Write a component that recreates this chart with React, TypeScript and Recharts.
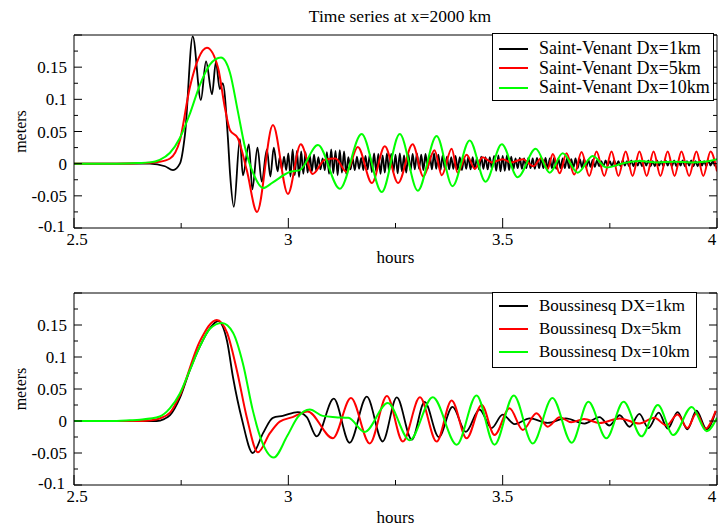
import { LineChart, Line, XAxis, YAxis, Legend } from 'recharts';

const FONT = '"Liberation Serif", "Times New Roman", serif';

// axis ticks (minor + major), labels only on the majors
const xTicks = [2.5, 2.75, 3, 3.25, 3.5, 3.75, 4];
const yTicks = [-0.1, -0.075, -0.05, -0.025, 0, 0.025, 0.05, 0.075, 0.1, 0.125, 0.15, 0.175, 0.2];
const yLabelled = [-0.1, -0.05, 0, 0.05, 0.1, 0.15];

const svNames = ['Saint-Venant Dx=1km', 'Saint-Venant Dx=5km', 'Saint-Venant Dx=10km'];
const bqNames = ['Boussinesq DX=1km', 'Boussinesq Dx=5km', 'Boussinesq Dx=10km'];
const colors = ['#000000', '#ff0000', '#00ff00'];

// Saint-Venant Dx=1km : main wave, then a high frequency tail sampled every 0.005 h
const sv1Head = [
  [2.5, 0], [2.6, 0], [2.677, 0], [2.712, -0.004], [2.731, -0.01], [2.747, 0.0], [2.759, 0.046],
  [2.777, 0.198], [2.796, 0.099], [2.808, 0.159], [2.822, 0.108], [2.831, 0.158], [2.84, 0.116],
  [2.847, 0.125], [2.859, 0.04], [2.864, -0.015], [2.873, -0.067], [2.887, 0.038], [2.894, -0.018],
  [2.908, 0.03], [2.916, -0.04], [2.928, 0.025], [2.938, -0.028], [2.95, 0.022], [2.958, -0.02],
  [2.966, 0.025],
];
const sv1TailStart = 2.975;
const sv1TailStep = 0.005;
const sv1Tail = [
  -0.012, 0.01, -0.009, 0.011, -0.01,
  0.016, -0.02, 0.022, -0.018, 0.02, -0.021, 0.019, -0.016, 0.018,
  -0.014, 0.013, -0.012, 0.014, -0.011,
  0.01, -0.009, 0.008, -0.01,
  0.018, -0.016, 0.022, -0.015, 0.02, -0.018, 0.021, -0.014, 0.019, -0.016,
  0.01, -0.009, 0.008, -0.01, 0.011, -0.008, 0.009, -0.01, 0.012, -0.009,
  0.014, -0.013, 0.016, -0.012, 0.015, -0.016, 0.013, -0.014, 0.016, -0.012,
  0.015, -0.013, 0.014, -0.015, 0.016, -0.012, 0.013, -0.014, 0.015, -0.011,
  0.015, -0.009, 0.016, -0.008, 0.014, -0.01, 0.015, -0.008,
  0.013, -0.009, 0.016, -0.008, 0.014, -0.01, 0.013, -0.008,
  0.011, -0.009, 0.01, -0.008, 0.012, -0.009, 0.01, -0.01, 0.009, -0.008, 0.011,
  -0.009, 0.01, -0.008, 0.009, -0.009, 0.011, -0.008, 0.01, -0.009, 0.01, -0.008,
  0.012, -0.011, 0.013, -0.012, 0.012, -0.011, 0.013, -0.01, 0.011, -0.009,
  0.008, -0.007, 0.009, -0.008, 0.008, -0.007, 0.009, -0.007, 0.008, -0.008, 0.009, -0.007,
  0.008, -0.007, 0.009, -0.008, 0.008, -0.007, 0.009, -0.008, 0.008, -0.007, 0.008, -0.007,
  0.008, -0.007, 0.007, -0.006, 0.008, -0.007, 0.007, -0.006, 0.007, -0.006, 0.006, -0.005, 0.006, -0.005,
  0.005, -0.004, 0.004, -0.004, 0.005, -0.003, 0.004, -0.004, 0.005, -0.003,
  0.004, -0.004, 0.005, -0.003, 0.004, -0.004, 0.005, -0.004, 0.004, -0.003,
  0.005, -0.004, 0.004, -0.003, 0.005, -0.004, 0.004, -0.004, 0.005, -0.003,
  0.004, -0.004, 0.005, -0.003, 0.004, -0.004, 0.005, -0.004, 0.004, -0.003,
  0.005, -0.004, 0.004, -0.003, 0.005, -0.004, 0.004, -0.004, 0.005, -0.003,
  0.004, -0.004, 0.005, -0.003, 0.004, -0.004,
];

const sv5 = [
  [2.5, 0], [2.6, 0], [2.66, 0.001], [2.7, 0.003], [2.724, 0.008], [2.747, 0.036], [2.77, 0.118],
  [2.79, 0.163], [2.81, 0.18], [2.836, 0.149], [2.852, 0.087], [2.864, 0.052], [2.882, 0.04],
  [2.903, -0.01], [2.927, -0.075], [2.964, 0.06], [2.999, -0.047], [3.029, 0.03], [3.057, -0.016],
  [3.085, 0.006], [3.11, 0.008], [3.136, -0.013], [3.162, 0.026], [3.195, -0.03], [3.225, 0.027],
  [3.256, -0.03], [3.29, 0.03], [3.315, -0.02], [3.341, 0.021], [3.358, -0.018], [3.381, 0.023],
  [3.395, -0.014], [3.416, 0.014], [3.435, -0.008], [3.453, 0.01], [3.475, 0.002], [3.5, 0.007],
  [3.52, 0.002], [3.547, 0.007], [3.572, -0.004], [3.59, 0.009], [3.605, -0.008], [3.617, 0.015],
  [3.633, -0.015], [3.649, 0.016], [3.667, -0.017], [3.684, 0.018], [3.702, -0.019], [3.719, 0.019],
  [3.737, -0.019], [3.754, 0.019], [3.77, -0.019], [3.787, 0.019], [3.803, -0.019], [3.819, 0.019],
  [3.836, -0.019], [3.852, 0.019], [3.868, -0.019], [3.885, 0.019], [3.901, -0.019], [3.917, 0.019],
  [3.935, -0.019], [3.952, 0.019], [3.968, -0.019], [3.985, 0.019], [4.0, -0.012],
];

const sv10 = [
  [2.5, 0], [2.6, 0], [2.65, 0.001], [2.677, 0.002], [2.7, 0.006], [2.724, 0.017], [2.747, 0.04],
  [2.77, 0.077], [2.794, 0.123], [2.817, 0.154], [2.843, 0.165], [2.864, 0.141], [2.882, 0.082],
  [2.899, 0.025], [2.92, -0.018], [2.941, -0.038], [2.964, -0.029], [3.003, -0.013], [3.027, -0.01],
  [3.069, 0.029], [3.12, -0.039], [3.171, 0.046], [3.218, -0.044], [3.26, 0.046], [3.302, -0.042],
  [3.346, 0.043], [3.383, -0.035], [3.423, 0.036], [3.46, -0.028], [3.498, 0.03], [3.535, -0.021],
  [3.577, 0.023], [3.61, -0.014], [3.64, 0.016], [3.675, -0.014], [3.71, 0.012], [3.742, -0.006],
  [3.784, 0.001], [3.82, 0.004], [3.86, 0.002], [3.9, 0.003], [3.94, 0.002], [3.97, 0.003], [4.0, 0.007],
];

const bq1 = [
  [2.5, 0], [2.693, 0], [2.71, 0.003], [2.724, 0.009], [2.747, 0.036], [2.77, 0.079], [2.794, 0.117],
  [2.817, 0.145], [2.836, 0.156], [2.857, 0.125], [2.871, 0.068], [2.892, 0.002], [2.917, -0.05],
  [2.941, -0.019], [2.964, 0.005], [2.987, 0.008], [3.022, 0.014], [3.043, 0.006], [3.066, -0.024],
  [3.106, 0.035], [3.143, -0.034], [3.183, 0.038], [3.22, -0.032], [3.253, 0.037], [3.288, -0.029],
  [3.318, 0.03], [3.351, -0.025], [3.383, 0.022], [3.414, -0.017], [3.446, 0.018], [3.474, -0.011],
  [3.5, 0.01], [3.528, -0.005], [3.563, 0.004], [3.605, -0.003], [3.647, 0.004], [3.691, -0.004],
  [3.726, 0.006], [3.749, -0.007], [3.773, 0.009], [3.796, -0.009], [3.819, 0.011], [3.84, -0.011],
  [3.864, 0.013], [3.885, -0.012], [3.908, 0.014], [3.931, -0.013], [3.952, 0.016], [3.976, -0.013],
  [3.997, 0.015],
];

const bq5 = [
  [2.5, 0], [2.66, 0], [2.68, 0.001], [2.7, 0.004], [2.724, 0.013], [2.747, 0.04], [2.794, 0.125],
  [2.833, 0.158], [2.857, 0.138], [2.88, 0.079], [2.903, 0.006], [2.929, -0.049], [2.957, -0.019],
  [2.98, -0.001], [3.01, 0.006], [3.045, 0.015], [3.104, -0.027], [3.146, 0.036], [3.19, -0.035],
  [3.23, 0.039], [3.267, -0.032], [3.307, 0.037], [3.346, -0.032], [3.381, 0.032], [3.416, -0.027],
  [3.451, 0.025], [3.481, -0.022], [3.516, 0.02], [3.547, -0.014], [3.579, 0.012], [3.605, -0.009],
  [3.633, 0.006], [3.66, -0.002], [3.69, 0.003], [3.726, -0.003], [3.773, 0.004], [3.819, -0.004],
  [3.854, 0.005], [3.882, -0.007], [3.908, 0.01], [3.931, -0.011], [3.952, 0.012], [3.973, -0.012],
  [3.997, 0.016],
];

const bq10 = [
  [2.5, 0], [2.6, 0], [2.63, 0.001], [2.654, 0.002], [2.7, 0.007], [2.724, 0.02], [2.747, 0.043],
  [2.77, 0.079], [2.794, 0.117], [2.817, 0.144], [2.845, 0.153], [2.871, 0.138], [2.894, 0.09],
  [2.917, 0.017], [2.934, -0.024], [2.966, -0.057], [2.997, -0.024], [3.022, 0.006], [3.05, 0.018],
  [3.08, 0.008], [3.11, 0.006], [3.14, 0.005], [3.178, -0.017], [3.232, 0.028], [3.283, -0.03],
  [3.337, 0.037], [3.393, -0.037], [3.439, 0.04], [3.481, -0.037], [3.526, 0.04], [3.57, -0.035],
  [3.616, 0.036], [3.661, -0.034], [3.7, 0.03], [3.742, -0.027], [3.782, 0.03], [3.824, -0.024],
  [3.862, 0.025], [3.898, -0.022], [3.941, 0.022], [3.976, -0.016], [4.0, 0.005],
];

type Pt = { t: number; v: number };
const toPoints = (rows: number[][]): Pt[] => rows.map(([t, v]) => ({ t, v }));

const sv1Data: Pt[] = [
  ...toPoints(sv1Head),
  ...sv1Tail.map((v, i) => ({ t: sv1TailStart + i * sv1TailStep, v })),
];

const isMajor = (v: number, step: number) => Math.abs(v / step - Math.round(v / step)) < 1e-6;

const BottomTick = ({ x, y, payload }: any) => {
  const major = isMajor(payload.value, 0.5);
  // first and last labels nudged inwards so they stay clear of the corner label and the edge
  const shift = payload.value === 4 ? -5 : payload.value === 2.5 ? 3 : 0;
  return (
    <g>
      <line x1={x} x2={x} y1={y} y2={y - (major ? 10 : 5)} stroke="#000" />
      {major && (
        <text x={x + shift} y={y + 17} textAnchor="middle" fontSize={17} fontFamily={FONT} fill="#000">
          {payload.value}
        </text>
      )}
    </g>
  );
};

const TopTick = ({ x, y, payload }: any) => {
  const major = isMajor(payload.value, 0.5);
  return <line x1={x} x2={x} y1={y} y2={y + (major ? 10 : 5)} stroke="#000" />;
};

const LeftTick = ({ x, y, payload }: any) => {
  const major = isMajor(payload.value, 0.05);
  const show = yLabelled.some((l) => Math.abs(l - payload.value) < 1e-9);
  const bottom = Math.abs(payload.value + 0.1) < 1e-9;
  return (
    <g>
      <line x1={x} x2={x + (major ? 8 : 4)} y1={y} y2={y} stroke="#000" />
      {show && (
        <text x={x - (bottom ? 9 : 7)} y={y + (bottom ? 4 : 6)} textAnchor="end" fontSize={17} fontFamily={FONT} fill="#000">
          {Number(payload.value.toFixed(3))}
        </text>
      )}
    </g>
  );
};

const RightTick = ({ x, y, payload }: any) => {
  const major = isMajor(payload.value, 0.05);
  return <line x1={x} x2={x - (major ? 8 : 4)} y1={y} y2={y} stroke="#000" />;
};

const MetersLabel = ({ viewBox }: any) => {
  const cx = viewBox.x + 6;
  const cy = viewBox.y + viewBox.height / 2;
  return (
    <text x={cx} y={cy} transform={`rotate(-90 ${cx} ${cy})`} textAnchor="middle" dominantBaseline="central"
      fontSize={16} fontFamily={FONT} fill="#000">
      meters
    </text>
  );
};

const makeLegend = (names: string[], fontSize: number, rowH: number, padTop: number, padBottom: number, padRight: number) => () => (
  <div style={{ border: '1px solid #000', background: '#fff', paddingTop: padTop, paddingBottom: padBottom, paddingRight: padRight }}>
    {names.map((name, i) => (
      <div key={name} style={{ display: 'flex', alignItems: 'center', height: rowH }}>
        <span style={{ display: 'inline-block', width: 29, borderTop: `2.5px solid ${colors[i]}`, marginLeft: 6, marginRight: 11 }} />
        <span style={{ fontFamily: FONT, fontSize, color: '#000', whiteSpace: 'nowrap' }}>{name}</span>
      </div>
    ))}
  </div>
);

type PanelProps = {
  data: Pt[][];
  names: string[];
  height: number;
  margin: { top: number; right: number; bottom: number; left: number };
  hoursOffset: number;
  legendTop: number;
  legend: () => any;
};

const Panel = ({ data, names, height, margin, hoursOffset, legendTop, legend }: PanelProps) => (
  <LineChart width={718} height={height} margin={margin}>
    <XAxis
      xAxisId="x" dataKey="t" type="number" domain={[2.5, 4]} allowDataOverflow ticks={xTicks} interval={0}
      tickSize={0} tickMargin={0} tickLine={false} tick={<BottomTick />} height={40}
      axisLine={{ stroke: '#000' }}
      label={{ value: 'hours', position: 'insideBottom', offset: hoursOffset, style: { fontFamily: FONT, fontSize: 17, fill: '#000' } }}
    />
    <XAxis
      xAxisId="xt" orientation="top" mirror type="number" domain={[2.5, 4]} allowDataOverflow ticks={xTicks}
      interval={0} tickSize={0} tickMargin={0} tickLine={false} tick={<TopTick />} axisLine={{ stroke: '#000' }}
    />
    <YAxis
      yAxisId="y" type="number" domain={[-0.1, 0.2]} allowDataOverflow ticks={yTicks} interval={0}
      tickSize={0} tickMargin={0} tickLine={false} tick={<LeftTick />} width={60}
      axisLine={{ stroke: '#000' }} label={<MetersLabel />}
    />
    <YAxis
      yAxisId="yr" orientation="right" mirror type="number" domain={[-0.1, 0.2]} allowDataOverflow
      ticks={yTicks} interval={0} tickSize={0} tickMargin={0} tickLine={false} tick={<RightTick />}
      axisLine={{ stroke: '#000' }}
    />
    {data.map((d, i) => (
      <Line
        key={names[i]} xAxisId="x" yAxisId="y" data={d} dataKey="v" name={names[i]} type="monotone"
        stroke={colors[i]} strokeWidth={i === 0 ? 1.8 : 2} dot={false} activeDot={false} isAnimationActive={false}
      />
    ))}
    <Legend
      layout="vertical" align="center" verticalAlign="middle" content={legend}
      wrapperStyle={{ left: 492, top: legendTop, width: 'auto', height: 'auto' }}
    />
  </LineChart>
);

export default function App() {
  return (
    <div style={{ position: 'absolute', left: 0, top: 0, width: 718, height: 526, background: '#fff', overflow: 'hidden' }}>
      <div style={{ position: 'absolute', left: 250, top: 6, width: 300, textAlign: 'center', fontFamily: FONT, fontSize: 17.5, color: '#000' }}>
        Time series at x=2000 km
      </div>
      <div style={{ position: 'absolute', left: 0, top: 0 }}>
        <Panel
          data={[sv1Data, toPoints(sv5), toPoints(sv10)]} names={svNames} height={270}
          margin={{ top: 35, right: 1, bottom: 2, left: 14 }} hoursOffset={5} legendTop={33}
          legend={makeLegend(svNames, 18, 19.5, 5, 2, 3)}
        />
      </div>
      <div style={{ position: 'absolute', left: 0, top: 262 }}>
        <Panel
          data={[toPoints(bq1), toPoints(bq5), toPoints(bq10)]} names={bqNames} height={264}
          margin={{ top: 31, right: 1, bottom: 1, left: 14 }} hoursOffset={2} legendTop={30}
          legend={makeLegend(bqNames, 17, 23, 1.5, 3.5, 6)}
        />
      </div>
    </div>
  );
}
